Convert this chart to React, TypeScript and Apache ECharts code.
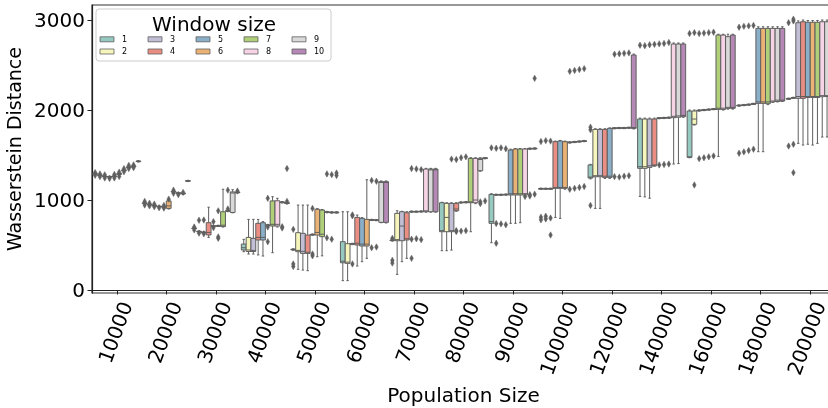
import React, { useEffect, useRef } from "react";
import * as echarts from "echarts";

const populationSizes = ["10000", "20000", "30000", "40000", "50000", "60000", "70000", "80000", "90000", "100000", "120000", "140000", "160000", "180000", "200000"];
const windowSizes = ["1", "2", "3", "4", "5", "6", "7", "8", "9", "10"];
const windowColors = ["#96cac1", "#f5f5bc", "#c1bed6", "#ea8e83", "#8aafc9", "#eab375", "#afcf78", "#f6d3e5", "#d9d9d9", "#b588b6"];
const yTickValues = [0, 1000, 2000, 3000];

// each entry: [min, q1, median, q3, max] for window sizes 1..10
const pop10000 = [[1282,1286,1290,1294,1298],[1268,1272,1275,1278,1282],[1255,1259,1262,1265,1269],[1250,1254,1258,1261,1265],[1256,1260,1264,1268,1272],[1278,1284,1290,1296,1302],[1322,1327,1331,1335,1340],[1356,1361,1365,1369,1374],[1366,1371,1375,1379,1384],[1422,1427,1430,1433,1438]];
const pop20000 = [[958,961,965,969,972],[944,947,950,953,956],[934,937,940,943,946],[922,925,928,931,934],[918,921,925,928,931],[900,907,935,990,1000],[1085,1089,1092,1096,1100],[1070,1074,1078,1081,1085],[1064,1068,1072,1075,1079],[1205,1209,1212,1215,1219]];
const pop30000 = [[680,683,686,689,692],[643,646,650,653,657],[633,636,640,643,647],[585,612,640,748,920],[704,707,711,714,718],[706,709,713,716,720],[700,705,720,870,1120],[872,875,879,882,886],[858,862,1078,1090,1115],[1078,1081,1085,1088,1092]];
const pop40000 = [[426,445,470,511,563],[400,428,445,585,785],[400,428,440,574,785],[390,556,585,741,785],[378,556,585,748,760],[714,717,720,724,728],[415,711,730,990,1037],[700,711,730,992,1019],[968,971,975,979,983],[958,962,966,970,974]];
const pop50000 = [[442,446,450,454,458],[230,426,440,637,944],[222,407,430,630,944],[215,407,420,611,944],[608,612,615,619,623],[370,611,640,897,905],[380,593,620,889,895],[858,862,866,870,874],[854,858,862,866,870],[854,858,862,866,870]];
const pop60000 = [[104,303,320,537,870],[104,296,310,515,870],[504,508,512,516,520],[267,500,520,807,833],[315,489,510,796,805],[352,489,510,785,1225],[772,775,778,782,786],[770,773,777,780,784],[748,752,1195,1204,1212],[745,752,1195,1204,1212]];
const pop70000 = [[545,549,552,556,560],[174,548,560,852,881],[315,548,711,870,875],[352,556,570,859,870],[864,867,870,874,878],[864,867,870,874,878],[866,869,872,876,880],[865,870,880,1344,1352],[865,870,1335,1344,1352],[865,870,1335,1344,1352]];
const pop80000 = [[437,648,660,970,975],[437,648,807,963,970],[444,648,660,963,970],[875,881,900,963,970],[966,969,972,976,980],[968,971,975,979,983],[648,970,980,1463,1470],[960,970,1000,1463,1470],[1320,1326,1450,1463,1470],[1458,1461,1465,1469,1473]];
const pop90000 = [[526,741,760,1063,1070],[1052,1055,1058,1062,1065],[1052,1055,1058,1062,1065],[1054,1057,1060,1064,1067],[741,1056,1070,1556,1565],[741,1056,1070,1567,1572],[748,1056,1070,1567,1572],[1050,1056,1070,1567,1572],[1563,1566,1570,1574,1578],[1565,1568,1572,1576,1580]];
const pop100000 = [[1118,1121,1125,1129,1132],[1118,1121,1125,1129,1132],[1118,1121,1125,1129,1132],[807,1130,1140,1648,1655],[796,1130,1140,1656,1662],[1120,1130,1140,1648,1655],[1633,1636,1640,1644,1647],[1638,1641,1645,1649,1652],[1643,1646,1650,1654,1657],[1648,1651,1655,1659,1662]];
const pop120000 = [[1235,1245,1255,1390,1396],[907,1259,1270,1785,1792],[907,1259,1270,1785,1792],[1240,1252,1265,1785,1792],[1240,1252,1265,1796,1802],[1791,1794,1798,1802,1805],[1793,1796,1800,1804,1807],[1793,1796,1800,1804,1807],[1796,1799,1803,1807,1810],[1790,1796,1805,2611,2622]];
const pop140000 = [[1040,1352,1370,1900,1910],[1035,1352,1370,1900,1910],[1020,1363,1380,1900,1910],[1375,1381,1390,1900,1910],[1903,1906,1910,1914,1917],[1905,1908,1912,1916,1919],[1908,1911,1915,1919,1922],[1400,1915,1930,2733,2745],[1405,1920,1935,2733,2745],[1920,1926,1940,2733,2745]];
const pop160000 = [[1470,1474,1480,1989,2000],[1833,1841,1900,1989,2000],[1988,1991,1995,1999,2002],[1993,1996,2000,2004,2007],[1998,2001,2005,2009,2012],[2003,2006,2010,2014,2017],[1485,2007,2020,2833,2842],[2000,2007,2020,2833,2842],[2010,2019,2030,2815,2842],[2010,2019,2030,2833,2842]];
const pop180000 = [[2043,2046,2050,2054,2057],[2048,2051,2055,2059,2062],[2053,2056,2060,2064,2067],[2061,2064,2068,2072,2075],[1537,2074,2090,2907,2925],[1537,2074,2090,2907,2925],[2060,2070,2090,2907,2925],[2085,2090,2100,2907,2925],[2090,2095,2110,2907,2925],[2095,2100,2110,2907,2925]];
const pop200000 = [[2118,2121,2125,2129,2132],[2128,2131,2135,2139,2142],[1630,2130,2150,2970,2990],[1611,2130,2150,2981,3000],[1620,2140,2150,2975,2995],[1611,2140,2150,2975,2995],[1630,2140,2150,2975,2995],[1700,2148,2160,2981,3000],[1700,2150,2160,2981,3000],[1700,2150,2160,2981,3000]];

// outliers: [window size, value]
const out10000 = [[1,1305],[1,1275],[2,1260],[2,1290],[3,1245],[3,1280],[4,1240],[5,1245],[5,1285],[6,1262],[6,1310],[7,1315],[7,1348],[8,1350],[8,1385],[9,1360],[9,1390]];
const out20000 = [[1,985],[1,945],[2,965],[2,935],[3,925],[3,955],[4,915],[5,910],[5,940],[6,1010],[7,1110],[7,1075],[8,1060],[9,1085]];
const out30000 = [[1,700],[1,668],[2,775],[2,632],[3,778],[3,625],[5,760],[5,693],[6,575],[6,590],[6,880],[8,1110],[8,900],[10,1100]];
const out40000 = [[6,537],[6,1019],[6,700],[9,703],[9,690],[10,1350],[10,985]];
const out50000 = [[1,674],[1,290],[1,262],[5,907],[5,400],[5,380],[8,580],[8,1290],[9,565],[9,1282],[10,1300],[10,1272]];
const out60000 = [[3,825],[3,835],[3,290],[7,1218],[7,470],[8,1208],[8,478]];
const out70000 = [[1,574],[1,330],[1,300],[5,1350],[5,565],[5,352],[6,1345],[6,570],[7,1338],[7,560]];
const out80000 = [[3,1455],[4,660],[4,650],[4,1450],[5,1470],[5,655],[6,1480],[6,660],[9,980],[9,960],[10,990]];
const out90000 = [[1,1580],[2,740],[2,520],[2,1575],[3,735],[3,1580],[4,725],[4,1570],[8,1040],[9,1060],[9,1045],[10,1065],[10,2352]];
const out100000 = [[1,1650],[1,810],[1,780],[2,1660],[2,820],[2,790],[3,1655],[3,800],[3,611],[7,1120],[7,2430],[8,1130],[8,2440],[9,1140],[9,2450],[10,1150],[10,2460]];
const out120000 = [[1,1780],[1,1810],[1,940],[6,1260],[6,2620],[7,1255],[7,2625],[8,1265],[8,2630],[9,1270],[9,2635]];
const out140000 = [[1,2720],[2,2715],[3,2725],[4,2730],[5,1390],[5,2735],[6,1395],[6,2740],[7,1400],[7,2750]];
const out160000 = [[1,2850],[2,1167],[2,2860],[3,1460],[3,2850],[4,1470],[4,2855],[5,1480],[5,2860],[6,1490],[6,2865]];
const out180000 = [[1,1520],[1,2920],[2,1535],[2,2930],[3,1550],[3,2935],[4,1565],[4,2940]];
const out200000 = [[1,1600],[1,2970],[2,1620],[2,1304],[2,2990],[2,3010]];

const boxGroups = [pop10000, pop20000, pop30000, pop40000, pop50000, pop60000, pop70000, pop80000, pop90000, pop100000, pop120000, pop140000, pop160000, pop180000, pop200000];
const outlierGroups = [out10000, out20000, out30000, out40000, out50000, out60000, out70000, out80000, out90000, out100000, out120000, out140000, out160000, out180000, out200000];

const LINE = "#5f5f5f";
const FONT = "DejaVu Sans";
const HUE_FRACTION = 0.097;

function makeBoxRenderer(hue: number) {
  return (params: any, api: any) => {
    const cat = api.value(0);
    const band = api.size([1, 0])[0];
    const pitch = band * HUE_FRACTION;
    const cx = api.coord([cat, 0])[0] + (hue - 4.5) * pitch;
    const yMin = api.coord([cat, api.value(1)])[1];
    const yQ1 = api.coord([cat, api.value(2)])[1];
    const yMed = api.coord([cat, api.value(3)])[1];
    const yQ3 = api.coord([cat, api.value(4)])[1];
    const yMax = api.coord([cat, api.value(5)])[1];
    const half = pitch / 2;
    const cap = pitch / 4;
    const ls = { stroke: LINE, lineWidth: 1 };
    return {
      type: "group",
      children: [
        { type: "line", shape: { x1: cx, y1: yQ3, x2: cx, y2: yMax }, style: ls },
        { type: "line", shape: { x1: cx, y1: yQ1, x2: cx, y2: yMin }, style: ls },
        { type: "line", shape: { x1: cx - cap, y1: yMax, x2: cx + cap, y2: yMax }, style: ls },
        { type: "line", shape: { x1: cx - cap, y1: yMin, x2: cx + cap, y2: yMin }, style: ls },
        { type: "rect", shape: { x: cx - half, y: yQ3, width: pitch, height: Math.max(yQ1 - yQ3, 0.5) }, style: { fill: windowColors[hue], stroke: LINE, lineWidth: 1 } },
        { type: "line", shape: { x1: cx - half, y1: yMed, x2: cx + half, y2: yMed }, style: ls },
      ],
    };
  };
}

function renderOutlier(params: any, api: any) {
  const cat = api.value(0);
  const hue = api.value(1);
  const band = api.size([1, 0])[0];
  const pitch = band * HUE_FRACTION;
  const pt = api.coord([cat, api.value(2)]);
  const cx = pt[0] + (hue - 4.5) * pitch;
  const cy = pt[1];
  return {
    type: "polygon",
    shape: { points: [[cx, cy - 3.2], [cx + 1.8, cy], [cx, cy + 3.2], [cx - 1.8, cy]] },
    style: { fill: LINE, stroke: LINE, lineWidth: 0.5 },
  };
}

function buildLegend() {
  const colX = [100, 148, 196, 244, 292];
  const rowY = [36.8, 49];
  const elements: any[] = [
    { type: "rect", z: 100, shape: { x: 96, y: 9, width: 235, height: 52, r: 3 }, style: { fill: "rgba(255,255,255,0.8)", stroke: "#cccccc", lineWidth: 1 } },
    { type: "text", z: 101, x: 214, y: 23.5, style: { text: "Window size", fontSize: 20, lineHeight: 19, fontFamily: FONT, fill: "#000", align: "center", verticalAlign: "middle" } },
  ];
  windowSizes.forEach((ws, i) => {
    const col = Math.floor(i / 2);
    const row = i % 2;
    elements.push({ type: "rect", z: 101, shape: { x: colX[col], y: rowY[row], width: 14, height: 5 }, style: { fill: windowColors[i], stroke: LINE, lineWidth: 0.8 } });
    elements.push({ type: "text", z: 101, x: colX[col] + 22, y: rowY[row] + 2.5, style: { text: ws, fontSize: 8, lineHeight: 9, fontFamily: FONT, fill: "#000", align: "left", verticalAlign: "middle" } });
  });
  return elements;
}

export default function App() {
  const ref = useRef<HTMLDivElement>(null);
  useEffect(() => {
    if (!ref.current) return;
    const chart = echarts.init(ref.current, null, { renderer: "svg" });
    const boxSeries = windowSizes.map((ws, h) => ({
      type: "custom",
      name: ws,
      renderItem: makeBoxRenderer(h),
      encode: { x: 0, y: [1, 2, 3, 4, 5] },
      data: boxGroups.map((g, ci) => [ci, ...g[h]]),
      z: 2,
    }));
    const outlierData: number[][] = [];
    outlierGroups.forEach((list, ci) => list.forEach(([w, v]) => outlierData.push([ci, w - 1, v])));
    const option: any = {
      animation: false,
      textStyle: { fontFamily: FONT },
      grid: { left: 92, right: -7, top: 5, bottom: 115, show: true, borderColor: "#333", borderWidth: 1.2, backgroundColor: "transparent", containLabel: false, outerBoundsMode: "none" },
      xAxis: {
        type: "category",
        data: populationSizes,
        axisLine: { show: true, lineStyle: { color: "#222", width: 1.2 } },
        axisTick: { show: true, alignWithLabel: true, length: 4.5, lineStyle: { color: "#222" } },
        axisLabel: { interval: 0, rotate: 70, fontSize: 20, color: "#000", margin: 6, align: "right", verticalAlign: "top", fontFamily: FONT, hideOverlap: false },
        splitLine: { show: false },
        name: "Population Size",
        nameLocation: "middle",
        nameGap: 88,
        nameTextStyle: { fontSize: 20, color: "#000", fontFamily: FONT },
      },
      yAxis: {
        type: "value",
        min: -33,
        max: 3167,
        axisLine: { show: true, lineStyle: { color: "#222", width: 1.2 } },
        axisTick: { show: true, length: 4.5, customValues: yTickValues, lineStyle: { color: "#222" } },
        axisLabel: { fontSize: 20, color: "#000", margin: 7, customValues: yTickValues, formatter: (v: number) => String(v), fontFamily: FONT },
        splitLine: { show: false },
        name: "Wasserstein Distance",
        nameLocation: "middle",
        nameGap: 56,
        nameTextStyle: { fontSize: 19, color: "#000", fontFamily: FONT },
      },
      graphic: buildLegend(),
      series: [
        ...boxSeries,
        { type: "custom", name: "outliers", renderItem: renderOutlier, encode: { x: 0, y: 2 }, data: outlierData, z: 3 },
      ],
    };
    chart.setOption(option);
    return () => chart.dispose();
  }, []);
  return <div ref={ref} style={{ position: "fixed", left: 0, top: 0, width: 828, height: 408 }} />;
}
